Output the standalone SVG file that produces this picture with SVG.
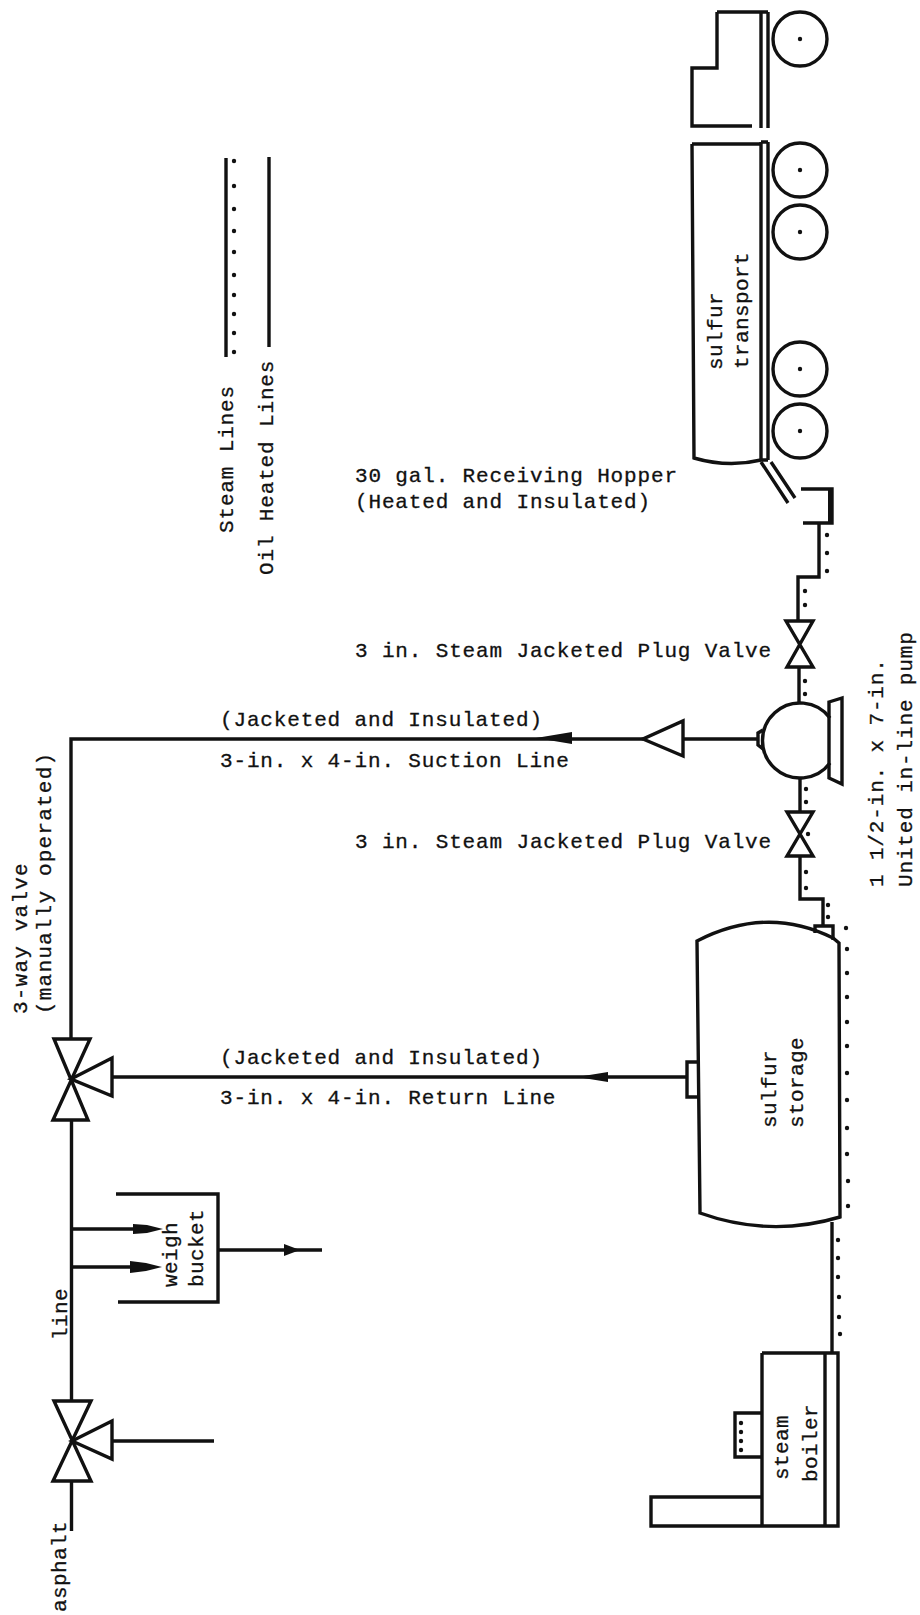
<svg xmlns="http://www.w3.org/2000/svg" width="920" height="1615" viewBox="0 0 920 1615">
<style>
.s{fill:none;stroke:#111;stroke-width:3.4;stroke-linejoin:miter}
.p{fill:none;stroke:#111;stroke-width:3.4}
.d{fill:#111;stroke:none}
.a{fill:#111;stroke:none}
text{font-family:"Liberation Mono",monospace;font-size:21px;fill:#111;stroke:#111;stroke-width:.3;letter-spacing:.85px}
.n{letter-spacing:.4px}
</style>
<defs>
<circle id="dot" r="2.2" class="d"/>
<g id="wheel"><circle r="27" class="s"/><circle r="2.2" class="d"/></g>
</defs>
<rect width="920" height="1615" fill="#fff"/>
<g id="connectors">
<path class="p" d="M819 523V577H798V621M799 667V703M800 778V812M800 856V899H823V927"/>
<path class="p" d="M757 739H683M643 739H71V1039"/>
<path class="p" d="M687 1077H112M71.500 1120V1401M71.500 1481V1531M113 1441H214"/>
<path class="p" d="M72 1229H135M72 1267H135M218 1250H322"/>
<path class="p" d="M832 1222V1353"/>
<polygon class="a" points="163,1229 147,1225 133,1224 133,1234 147,1233"/>
<polygon class="a" points="162,1267 146,1263 130,1261 130,1273 146,1271"/>
<polygon class="a" points="300,1250 284,1244 284,1256"/>
<polygon class="a" points="536,738 572,732 572,744"/>
<polygon class="a" points="577,1077 608,1072 608,1082"/>
<g id="steam-dots">
<use href="#dot" x="827" y="535"/><use href="#dot" x="827" y="553"/><use href="#dot" x="827" y="571"/>
<use href="#dot" x="805" y="591"/><use href="#dot" x="805" y="605"/><use href="#dot" x="805" y="681"/><use href="#dot" x="805" y="694"/>
<use href="#dot" x="806" y="789"/><use href="#dot" x="806" y="802"/><use href="#dot" x="808" y="834"/><use href="#dot" x="806" y="872"/><use href="#dot" x="806" y="888"/>
<use href="#dot" x="828" y="905"/><use href="#dot" x="828" y="917"/>
<use href="#dot" x="846" y="928"/><use href="#dot" x="847" y="949"/><use href="#dot" x="847" y="973"/><use href="#dot" x="847" y="997"/><use href="#dot" x="847" y="1022"/><use href="#dot" x="847" y="1046"/><use href="#dot" x="847" y="1073"/><use href="#dot" x="847" y="1100"/><use href="#dot" x="847" y="1128"/><use href="#dot" x="847" y="1154"/><use href="#dot" x="848" y="1181"/><use href="#dot" x="848" y="1206"/>
<use href="#dot" x="838" y="1240"/><use href="#dot" x="838" y="1258"/><use href="#dot" x="838" y="1277"/><use href="#dot" x="839" y="1297"/><use href="#dot" x="839" y="1317"/><use href="#dot" x="840" y="1334"/>
</g>
</g>
<g id="truck-cab">
<path class="s" d="M717 12V68H692V126H752"/>
<path class="s" d="M717 12H768M761 12V128M768 12V128"/>
<use href="#wheel" x="800" y="39"/>
</g>
<g id="sulfur-transport">
<path class="s" d="M692 144H761M692 144L694 458Q728 468 761 460V142M768 142V460M761 142H768M761 460H768"/>
<use href="#wheel" x="800" y="170"/><use href="#wheel" x="800" y="232"/><use href="#wheel" x="800" y="369"/><use href="#wheel" x="800" y="431"/>
<text class="n" transform="translate(722 370) rotate(-90)">sulfur</text>
<text class="n" transform="translate(748 369) rotate(-90)">transport</text>
</g>
<g id="receiving-hopper">
<path class="s" d="M761 462L788 503M771 462L795 498"/>
<path class="s" d="M801 489H832V523H803"/>
<path d="M830 489V523" stroke="#111" stroke-width="4" fill="none"/>
<text x="355" y="482">30 gal. Receiving Hopper</text>
<text x="355" y="508">(Heated and Insulated)</text>
</g>
<g id="valve-1">
<path class="s" d="M786 621H813L787 667H813Z"/>
<text x="355" y="657">3 in. Steam Jacketed Plug Valve</text>
</g>
<g id="pump">
<path class="s" d="M830 718A37.500 37.500 0 1 0 830 763"/>
<path class="s" d="M763 730L758 733V745L763 749"/>
<path class="s" d="M829 702L842 698V784L829 778Z"/>
<text transform="translate(883 887) rotate(-90)">1 1/2-in. x 7-in.</text>
<text transform="translate(912 887) rotate(-90)">United in-line pump</text>
</g>
<g id="reducer">
<path class="s" d="M683 721V756L643 739Z"/>
<text x="220" y="726">(Jacketed and Insulated)</text>
<text x="220" y="767">3-in. x 4-in. Suction Line</text>
</g>
<g id="valve-2">
<path class="s" d="M787 812H813L787 856H813Z"/>
<text x="355" y="848">3 in. Steam Jacketed Plug Valve</text>
</g>
<g id="sulfur-storage">
<path class="s" d="M697 941Q767 905 833 938L839 943L840 1217Q770 1238 700 1213Z"/>
<path class="s" d="M815 933V926H833V940"/>
<path class="s" d="M697 1062H687V1097H698"/>
<text class="n" transform="translate(776 1128) rotate(-90)">sulfur</text>
<text class="n" transform="translate(803 1128) rotate(-90)">storage</text>
<text x="220" y="1064">(Jacketed and Insulated)</text>
<text x="220" y="1104">3-in. x 4-in. Return Line</text>
</g>
<g id="three-way-valve">
<path class="s" d="M54 1039H90L53 1120H88Z"/>
<path class="s" d="M71 1079L112 1058V1096Z"/>
<text transform="translate(27 1014) rotate(-90)" style="letter-spacing:1.2px">3-way valve</text>
<text transform="translate(51 1014) rotate(-90)" style="letter-spacing:1.2px">(manually operated)</text>
</g>
<g id="weigh-bucket">
<path class="s" d="M116 1194H218V1302H118"/>
<text class="n" transform="translate(177 1287) rotate(-90)">weigh</text>
<text class="n" transform="translate(203 1287) rotate(-90)">bucket</text>
</g>
<g id="asphalt-valve">
<path class="s" d="M54 1401H91L53 1481H91Z"/>
<path class="s" d="M72 1441L112 1421V1459Z"/>
<text class="n" transform="translate(67 1340) rotate(-90)">line</text>
<text class="n" transform="translate(66 1612) rotate(-90)">asphalt</text>
</g>
<g id="steam-boiler">
<path class="s" d="M762 1353H838V1526H651V1497H762M762 1353V1526M825 1353V1526"/>
<path class="s" d="M762 1413H735V1457H762"/>
<use href="#dot" x="741" y="1423"/><use href="#dot" x="741" y="1432"/><use href="#dot" x="741" y="1441"/><use href="#dot" x="741" y="1450"/>
<text class="n" transform="translate(788 1480) rotate(-90)">steam</text>
<text class="n" transform="translate(817 1482) rotate(-90)">boiler</text>
</g>
<g id="legend">
<path class="p" d="M226 158V357M269 157V347"/>
<use href="#dot" x="234" y="161"/><use href="#dot" x="234" y="186"/><use href="#dot" x="234" y="209"/><use href="#dot" x="234" y="231"/><use href="#dot" x="234" y="252"/><use href="#dot" x="234" y="275"/><use href="#dot" x="234" y="295"/><use href="#dot" x="234" y="314"/><use href="#dot" x="234" y="333"/><use href="#dot" x="234" y="352"/>
<text transform="translate(233 533) rotate(-90)">Steam Lines</text>
<text transform="translate(273 575) rotate(-90)">Oil Heated Lines</text>
</g>
</svg>
